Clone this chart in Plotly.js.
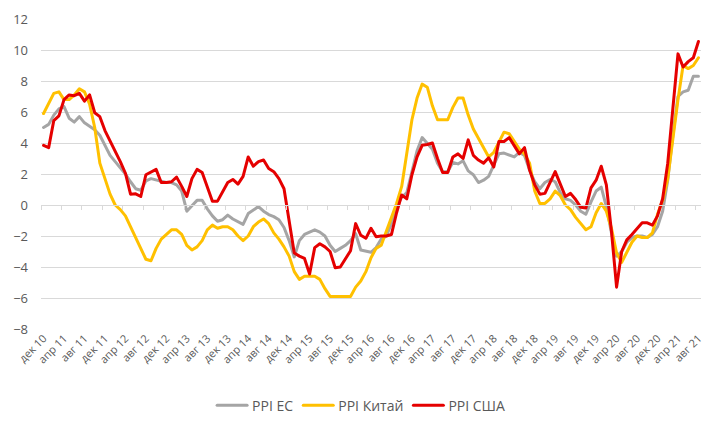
<!DOCTYPE html>
<html><head><meta charset="utf-8">
<script src="https://cdn.plot.ly/plotly-3.0.1.min.js"></script>
<style>
html,body{margin:0;padding:0;background:#fff;}
#chart{width:703px;height:424px;}
.js-line{stroke-linejoin:round;stroke-linecap:round;}
</style>
</head><body><div id="chart"></div>
<script>
// Month names for category labels (Dec 2010 .. Aug 2021)
const monthNames = ['янв','фев','мар','апр','май','июн','июл','авг','сен','окт','ноя','дек'];
const categories = [];
for (let i = 0; i < 129; i++) {
  const m = (11 + i) % 12;
  const y = 10 + Math.floor((11 + i) / 12);
  categories.push(monthNames[m] + ' ' + y);
}

const tickLabels = ['дек 10','апр 11','авг 11','дек 11','апр 12','авг 12','дек 12','апр 13','авг 13','дек 13',
  'апр 14','авг 14','дек 14','апр 15','авг 15','дек 15','апр 16','авг 16','дек 16','апр 17','авг 17','дек 17',
  'апр 18','авг 18','дек 18','апр 19','авг 19','дек 19','апр 20','авг 20','дек 20','апр 21','авг 21'];

const ppiEU = [
  5.0, 5.2, 5.8, 6.2, 6.35, 5.6, 5.35, 5.7, 5.3, 5.1, 4.85, 4.5,
  3.85, 3.2, 2.8, 2.4, 2.0, 1.5, 1.05, 0.95, 1.55, 1.7, 1.6, 1.5,
  1.45, 1.45, 1.3, 0.9, -0.4, -0.05, 0.3, 0.3, -0.25, -0.7, -1.05, -0.95,
  -0.65, -0.9, -1.1, -1.25, -0.55, -0.35, -0.1, -0.4, -0.62, -0.75, -0.95, -1.45,
  -2.3, -3.35, -2.3, -1.9, -1.75, -1.6, -1.75, -2.0, -2.6, -3.0, -2.8, -2.6,
  -2.3, -1.85, -2.9, -3.0, -3.05, -2.75, -2.2, -2.0, -1.2, -0.1, 0.5, 0.8,
  2.1, 3.5, 4.35, 4.0, 3.6, 2.7, 2.15, 2.15, 2.75, 2.65, 2.85, 2.2,
  1.95, 1.45, 1.6, 1.85, 2.55, 3.3, 3.35, 3.25, 3.1, 3.4, 3.2, 2.25,
  1.5, 1.05, 1.45, 1.65, 1.5, 0.8, 0.4, 0.3, 0.0, -0.4, -0.6, 0.2,
  0.9, 1.15, -0.1, -1.8, -3.3, -3.0, -2.4, -2.1, -2.0, -2.0, -2.1, -1.9,
  -1.4, -0.4, 1.6, 4.5, 7.0, 7.3, 7.4, 8.3, 8.3
];

const ppiChina = [
  5.9, 6.6, 7.2, 7.3, 6.8, 6.8, 7.1, 7.5, 7.3, 6.5, 5.0, 2.7,
  1.7, 0.7, 0.0, -0.3, -0.7, -1.4, -2.1, -2.9, -3.5, -3.6, -2.8, -2.2,
  -1.9, -1.6, -1.6, -1.9, -2.6, -2.9, -2.7, -2.3, -1.6, -1.3, -1.5, -1.4,
  -1.4, -1.6, -2.0, -2.3, -2.0, -1.4, -1.1, -0.9, -1.2, -1.8, -2.2, -2.7,
  -3.3, -4.3, -4.8, -4.6, -4.6, -4.6, -4.8, -5.4, -5.9, -5.9, -5.9, -5.9,
  -5.9, -5.3, -4.9, -4.3, -3.4, -2.8, -2.6, -1.7, -0.8, 0.1, 1.2, 3.3,
  5.5, 6.9, 7.8, 7.6, 6.4, 5.5, 5.5, 5.5, 6.3, 6.9, 6.9, 5.8,
  4.9, 4.3, 3.7, 3.1, 3.4, 4.1, 4.7, 4.6, 4.1, 3.6, 3.3, 2.7,
  0.9, 0.1, 0.1, 0.4, 0.9, 0.6, 0.0, -0.3, -0.8, -1.2, -1.6, -1.4,
  -0.5, 0.1, -0.4, -1.5, -3.1, -3.7, -3.0, -2.4, -2.0, -2.1, -2.1, -1.8,
  -0.6, 0.3, 1.7, 4.4, 6.8, 9.0, 8.8, 9.0, 9.5
];

const ppiUSA = [
  3.85, 3.7, 5.45, 5.75, 6.8, 7.1, 7.05, 7.2, 6.7, 7.1, 5.95, 5.7,
  4.8, 4.15, 3.45, 2.8, 2.05, 0.7, 0.72, 0.55, 1.95, 2.15, 2.3, 1.45,
  1.45, 1.5, 1.8, 1.2, 0.55, 1.7, 2.3, 2.1, 1.1, 0.25, 0.25, 0.85,
  1.45, 1.65, 1.35, 1.85, 3.1, 2.5, 2.8, 2.9, 2.35, 2.15, 1.7, 1.05,
  -1.0, -3.1, -3.3, -3.45, -4.45, -2.75, -2.5, -2.7, -3.0, -4.05, -4.0, -3.5,
  -2.95, -1.2, -1.95, -2.15, -1.5, -2.05, -2.0, -2.0, -1.9, -0.5, 0.65, 0.4,
  1.95, 3.1, 3.85, 3.9, 4.0, 3.0, 2.1, 2.1, 3.1, 3.3, 3.0, 4.2,
  3.2, 2.9, 2.7, 3.05, 2.45, 4.1, 4.1, 4.35, 3.85, 3.3, 3.7, 2.25,
  1.3, 0.7, 0.75, 1.4, 2.15, 1.35, 0.55, 0.75, 0.35, -0.15, -0.2, 1.1,
  1.6, 2.5, 1.3, -1.7, -5.3, -3.0, -2.25, -1.9, -1.5, -1.15, -1.15, -1.3,
  -0.7, 0.4, 2.7, 6.2, 9.75, 8.9, 9.25, 9.5, 10.55
];

const seriesNames = ['PPI ЕС', 'PPI Китай', 'PPI США'];
const seriesColors = ['#A5A5A5', '#FFC000', '#E50000'];

// tick-mark positions between categories (every 4 months)
const tickMarkPos = [];
for (let k = 0; k <= 32; k++) tickMarkPos.push(-0.5 + 4 * k);

const font = {family: 'Open Sans, sans-serif', size: 13, color: '#595959'};

const traces = [ppiEU, ppiChina, ppiUSA].map((vals, idx) => ({
  type: 'scatter', mode: 'lines', x: categories, y: vals,
  name: seriesNames[idx], line: {color: seriesColors[idx], width: 3},
  hoverinfo: 'skip'
}));
traces.push({type: 'scatter', mode: 'lines', x: [0], y: [null], xaxis: 'x2', yaxis: 'y',
  showlegend: false, hoverinfo: 'skip'});

const layout = {
  width: 703, height: 424,
  margin: {l: 41, r: 2, t: 19, b: 90},
  paper_bgcolor: '#fff', plot_bgcolor: '#fff',
  font: font,
  showlegend: true,
  legend: {orientation: 'h', x: 0.485, xanchor: 'center', y: -0.2476, yanchor: 'middle',
           font: {family: 'Open Sans, sans-serif', size: 14, color: '#595959'}, itemwidth: 30, tracegroupgap: 0},
  xaxis: {type: 'category', range: [-0.5, 128.5], tickmode: 'array', tickvals: tickLabels, ticktext: tickLabels,
          tickangle: -45, showgrid: false, zeroline: false, showline: false, ticks: '',
          tickfont: {family: 'Open Sans, sans-serif', size: 11, color: '#595959'}},
  xaxis2: {overlaying: 'x', anchor: 'free', position: 0.4, type: 'linear', range: [-0.5, 128.5],
           tickmode: 'array', tickvals: tickMarkPos, ticks: 'outside', ticklen: 4, tickcolor: '#d9d9d9',
           showline: true, linecolor: '#d9d9d9', linewidth: 1, showticklabels: false,
           showgrid: false, zeroline: false},
  yaxis: {range: [-8, 12], tickmode: 'linear', tick0: -8, dtick: 2, gridcolor: '#d9d9d9', gridwidth: 1,
          zeroline: false, showline: false, ticks: '', ticklabelstandoff: 12,
          tickfont: {family: 'Open Sans, sans-serif', size: 13, color: '#595959'}}
};

Plotly.newPlot('chart', traces, layout, {displayModeBar: false, staticPlot: true});
</script>
</body></html>
